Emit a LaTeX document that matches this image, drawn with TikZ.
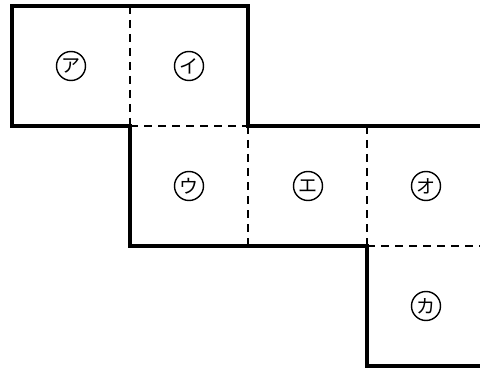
\documentclass[tikz,border=0pt]{standalone}
\usepackage{fontspec}
\newfontfamily\jpfont{Noto Sans CJK JP}
\begin{document}
\begin{tikzpicture}[x=1pt,y=-1pt,
  outline/.style={line width=3.4pt,line join=miter,line cap=rect},
  fold/.style={line width=1.3pt,dash pattern=on 8pt off 6pt},
  lbl/.style={circle,draw,line width=1.4pt,inner sep=0pt,minimum size=29pt,font=\jpfont\fontsize{19}{19}\selectfont}]
\useasboundingbox (0,0) rectangle (480,369);
\begin{scope}
\clip (0,0) rectangle (480,369);
% outline
\draw[outline] (12,126) -- (12,6) -- (248,6) -- (248,126) -- (490,126);
\draw[outline] (12,126) -- (130,126) -- (130,246) -- (367,246) -- (367,366) -- (490,366);
% fold lines
\draw[fold] (130,6) -- (130,126);
\draw[fold] (130,126) -- (248,126);
\draw[fold] (248,126) -- (248,246);
\draw[fold] (367,126) -- (367,246);
\draw[fold] (367,246) -- (490,246);
\end{scope}
\node[lbl] (a) at (71,66) {ア};
\node[lbl] (i) at (189,66) {イ};
\node[lbl] (u) at (189,186) {ウ};
\node[lbl] (e) at (308,186) {エ};
\node[lbl] (o) at (426,186) {オ};
\node[lbl] (k) at (426,306) {カ};
\end{tikzpicture}
\end{document}
